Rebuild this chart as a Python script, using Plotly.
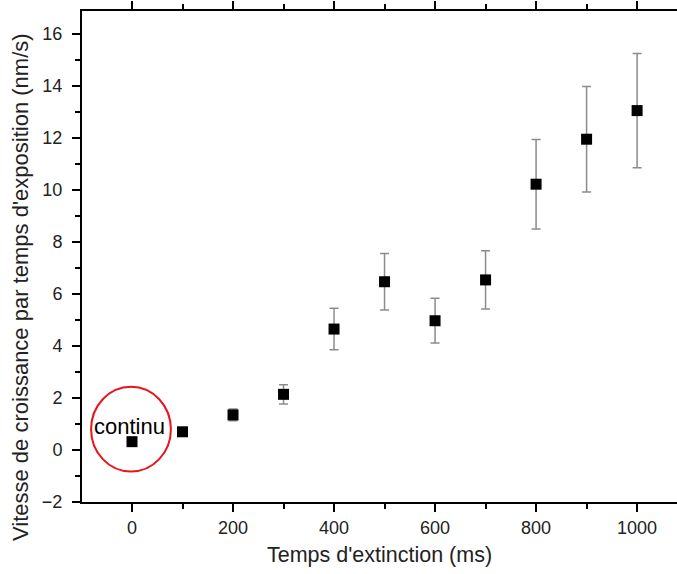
import plotly.graph_objects as go

# Data
temps_ms = [0, 100, 200, 300, 400, 500, 600, 700, 800, 900, 1000]
vitesse = [0.32, 0.70, 1.35, 2.14, 4.65, 6.47, 4.97, 6.54, 10.22, 11.95, 13.05]
erreur = [0.0, 0.0, 0.23, 0.37, 0.80, 1.09, 0.86, 1.12, 1.72, 2.03, 2.2]

x_ticks = [0, 200, 400, 600, 800, 1000]
y_ticks = [-2, 0, 2, 4, 6, 8, 10, 12, 14, 16]

annotation_text = "continu"
annotation_x = -5
annotation_y = 0.9

FONT = "Arial, Liberation Sans, sans-serif"
x_range = [-99, 1079]
y_range = [-2, 16.88]

L, R, T, B = 82, 0, 11, 72
W, H = 677, 574
pw = W - L - R
ph = H - T - B

fig = go.Figure()

fig.add_trace(go.Scatter(
    x=temps_ms, y=vitesse,
    mode="markers",
    marker=dict(symbol="square", size=11, color="black"),
    error_y=dict(type="data", array=erreur, visible=True,
                 color="#8c8c8c", thickness=1.5, width=4.5),
    showlegend=False,
))

fig.add_shape(type="circle", xref="x", yref="y",
              x0=-81, x1=77, y0=-0.83, y1=2.43,
              line=dict(color="#e8141b", width=2))

fig.add_annotation(x=annotation_x, y=annotation_y, text=annotation_text,
                   showarrow=False, font=dict(family=FONT, size=22, color="black"))

# y-axis title as annotation (centered lower than plot center in reference)
fig.add_annotation(xref="paper", yref="paper",
                   x=(20 - L) / pw, y=1 - (287 - T) / ph,
                   xanchor="center", yanchor="middle", textangle=-90,
                   text="Vitesse de croissance par temps d'exposition (nm/s)",
                   showarrow=False, font=dict(family=FONT, size=22, color="#222"))

fig.update_layout(
    width=W, height=H,
    margin=dict(l=L, r=R, t=T, b=B),
    plot_bgcolor="white", paper_bgcolor="white",
    font=dict(family=FONT, color="#222"),
    xaxis=dict(
        range=x_range, tickmode="array", tickvals=x_ticks,
        showline=True, linecolor="black", linewidth=2, mirror="allticks",
        ticks="outside", ticklen=8, tickwidth=2, tickcolor="black",
        minor=dict(dtick=100, ticks="outside", ticklen=5, tickwidth=2, tickcolor="black"),
        showgrid=False, zeroline=False,
        tickfont=dict(size=18, family=FONT, color="#222"),
        title=dict(text="Temps d'extinction (ms)", font=dict(size=21.5, family=FONT, color="#222"), standoff=10),
    ),
    yaxis=dict(
        range=y_range, tickmode="array", tickvals=y_ticks,
        showline=True, linecolor="black", linewidth=2,
        ticks="outside", ticklen=8, tickwidth=2, tickcolor="black",
        minor=dict(dtick=1, ticks="outside", ticklen=5, tickwidth=2, tickcolor="black"),
        showgrid=False, zeroline=False,
        tickfont=dict(size=18, family=FONT, color="#222"),
        ticklabelstandoff=6,
    ),
)

fig.write_html("out.html", config={"displayModeBar": False},
               post_script="document.body.style.margin='0';document.body.style.overflow='hidden';")
